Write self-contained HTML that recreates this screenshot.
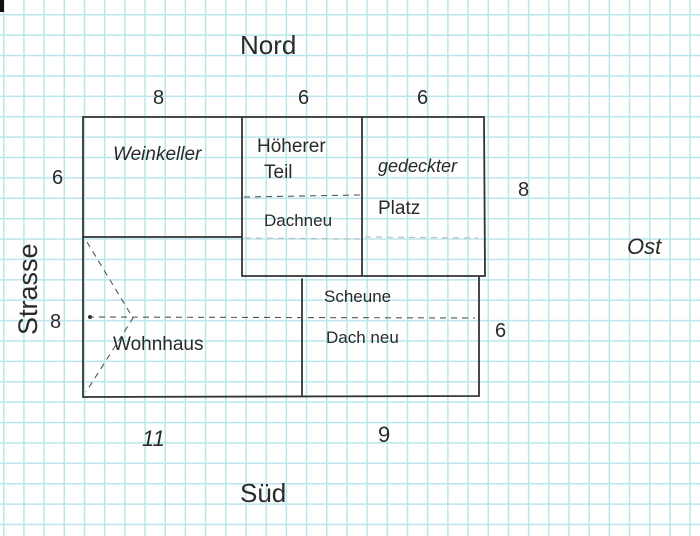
<!DOCTYPE html>
<html><head><meta charset="utf-8"><style>
html,body{margin:0;padding:0;}
body{width:700px;height:536px;overflow:hidden;background:#fff;
background-image:linear-gradient(to right,#b9e6ea 1.5px,transparent 1.5px),linear-gradient(to bottom,#b9e6ea 1.5px,transparent 1.5px);
background-size:20.2px 20.4px;background-position:3px 14px;}
svg{position:absolute;left:0;top:0;}
text{font-family:"Liberation Sans",sans-serif;fill:#2a2a2a;}
</style></head><body>
<svg width="700" height="536" viewBox="0 0 700 536">
<rect x="0" y="0" width="4" height="12" fill="#111"/>
<g stroke="#333" stroke-width="1.8" fill="none" stroke-linecap="round">
<path d="M83 117 L484 117 L485 276 L242 276 L242 117"/>
<path d="M83 117 L83 397 L479 396 L479 277"/>
<path d="M83 237 L242 237"/>
<path d="M362 117 L362 276"/>
<path d="M302 279 L302 396"/>
</g>
<g stroke="#555" stroke-width="1.1" fill="none" stroke-dasharray="6,5">
<path d="M244 197 L360 195"/>
<path d="M88 317 L475 318"/>
<path d="M87 242 L133 318 L86 392"/>
<path d="M245 238 L360 239 M365 237 L478 238" stroke="#bbb"/>
</g>
<circle cx="90" cy="317" r="2" fill="#333"/>
<g font-size="18">
<text x="113" y="160" font-size="19" font-style="italic">Weinkeller</text>
<text x="257" y="152" font-size="19">Höherer</text>
<text x="264" y="178" font-size="19">Teil</text>
<text x="264" y="226" font-size="17">Dachneu</text>
<text x="378" y="172" font-size="18" font-style="italic">gedeckter</text>
<text x="378" y="214" font-size="19">Platz</text>
<text x="324" y="302" font-size="17">Scheune</text>
<text x="326" y="343" font-size="17">Dach neu</text>
<text x="113" y="350" font-size="19">Wohnhaus</text>
<text x="240" y="54" font-size="26">Nord</text>
<text x="240" y="502" font-size="26">Süd</text>
<text x="627" y="254" font-size="22" font-style="italic">Ost</text>
<text x="153" y="104" font-size="20">8</text>
<text x="298" y="104" font-size="20">6</text>
<text x="417" y="104" font-size="20">6</text>
<text x="52" y="184" font-size="20">6</text>
<text x="518" y="196" font-size="20">8</text>
<text x="50" y="328" font-size="20">8</text>
<text x="495" y="337" font-size="20">6</text>
<text x="142" y="446" font-size="22" font-style="italic">11</text>
<text x="378" y="442" font-size="22">9</text>
<text transform="translate(37 335) rotate(-90)" font-size="27">Strasse</text>
</g>
</svg>
</body></html>
